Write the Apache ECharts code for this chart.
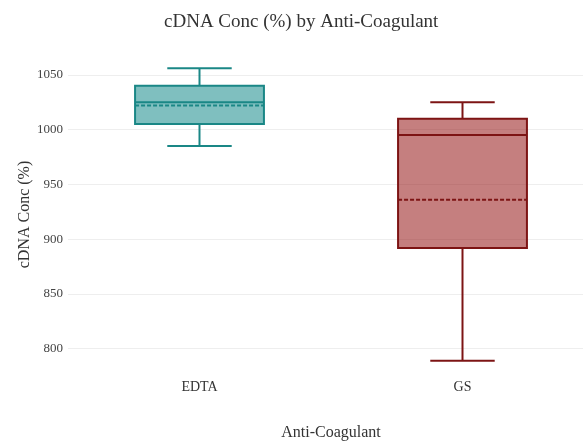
<!DOCTYPE html>
<html>
<head>
<meta charset="utf-8">
<script src="https://cdn.jsdelivr.net/npm/echarts@6/dist/echarts.min.js"></script>
<style>html,body{margin:0;padding:0;background:#fff;}#c{width:583px;height:441px;}</style>
</head>
<body>
<div id="c"></div>
<script>
const categories = ['EDTA', 'GS'];
// [min, Q1, median, Q3, max]
const boxStats = [
  [985, 1005, 1025, 1040, 1056],
  [789, 892, 995, 1010, 1025]
];
const means = [1022, 936];
const yTicks = [800, 850, 900, 950, 1000, 1050];
const lineColors = ['#1a8786', '#7d1414'];
const fillColors = ['rgba(0,128,128,0.5)', 'rgba(139,0,0,0.5)'];

const customData = categories.map((c, i) => [i].concat(boxStats[i], [means[i]]));

const serif = 'Liberation Serif, Times New Roman, serif';

function renderItem(params, api) {
  const idx = api.value(0);
  const band = api.size([1, 0])[0];
  const bw = band * 0.49;
  const cap = bw * 0.5;
  const pMin = api.coord([idx, api.value(1)]);
  const pQ1 = api.coord([idx, api.value(2)]);
  const pMed = api.coord([idx, api.value(3)]);
  const pQ3 = api.coord([idx, api.value(4)]);
  const pMax = api.coord([idx, api.value(5)]);
  const pMean = api.coord([idx, api.value(6)]);
  const cx = pMed[0];
  const stroke = lineColors[idx];
  const ls = {stroke: stroke, lineWidth: 2, fill: null};
  return {
    type: 'group',
    children: [
      {type: 'line', shape: {x1: cx, y1: pMax[1], x2: cx, y2: pQ3[1]}, style: ls},
      {type: 'line', shape: {x1: cx, y1: pQ1[1], x2: cx, y2: pMin[1]}, style: ls},
      {type: 'line', shape: {x1: cx - cap / 2, y1: pMax[1], x2: cx + cap / 2, y2: pMax[1]}, style: ls},
      {type: 'line', shape: {x1: cx - cap / 2, y1: pMin[1], x2: cx + cap / 2, y2: pMin[1]}, style: ls},
      {type: 'rect', shape: {x: cx - bw / 2, y: pQ3[1], width: bw, height: pQ1[1] - pQ3[1]},
        style: {fill: fillColors[idx], stroke: stroke, lineWidth: 2}},
      {type: 'line', shape: {x1: cx - bw / 2, y1: pMed[1], x2: cx + bw / 2, y2: pMed[1]}, style: ls},
      {type: 'line', shape: {x1: cx - bw / 2, y1: pMean[1], x2: cx + bw / 2, y2: pMean[1]},
        style: {stroke: stroke, lineWidth: 2, lineDash: [4, 2], fill: null}}
    ]
  };
}

const chart = echarts.init(document.getElementById('c'), null, {renderer: 'canvas'});
chart.setOption({
  backgroundColor: '#fff',
  animation: false,
  title: {
    text: 'cDNA Conc (%) by Anti-Coagulant',
    left: 159, top: 8,
    textStyle: {fontFamily: serif, fontSize: 19, fontWeight: 'normal', color: '#333'}
  },
  grid: {left: 68, top: 54, width: 526, height: 321, containLabel: false, outerBoundsMode: 'none'},
  xAxis: {
    type: 'category',
    data: categories,
    boundaryGap: true,
    axisLine: {show: false},
    axisTick: {show: false},
    splitLine: {show: false},
    axisLabel: {fontFamily: serif, fontSize: 14, color: '#333', margin: 5},
    name: 'Anti-Coagulant',
    nameLocation: 'middle',
    nameGap: 50,
    nameTextStyle: {fontFamily: serif, fontSize: 16, color: '#333'}
  },
  yAxis: {
    type: 'value',
    min: 776, max: 1069,
    axisLine: {show: false},
    axisTick: {show: false, customValues: yTicks},
    axisLabel: {fontFamily: serif, fontSize: 13, color: '#444', margin: 5,
      customValues: yTicks, formatter: v => String(v)},
    splitLine: {show: true, lineStyle: {color: '#eeeeee', width: 1}},
    name: 'cDNA Conc (%)',
    nameLocation: 'middle',
    nameGap: 35,
    nameMoveOverlap: false,
    nameTextStyle: {fontFamily: serif, fontSize: 16, color: '#333'}
  },
  series: [{
    type: 'custom',
    renderItem: renderItem,
    data: customData,
    encode: {x: 0, y: [1, 2, 3, 4, 5, 6]},
    clip: false
  }]
});
</script>
</body>
</html>
